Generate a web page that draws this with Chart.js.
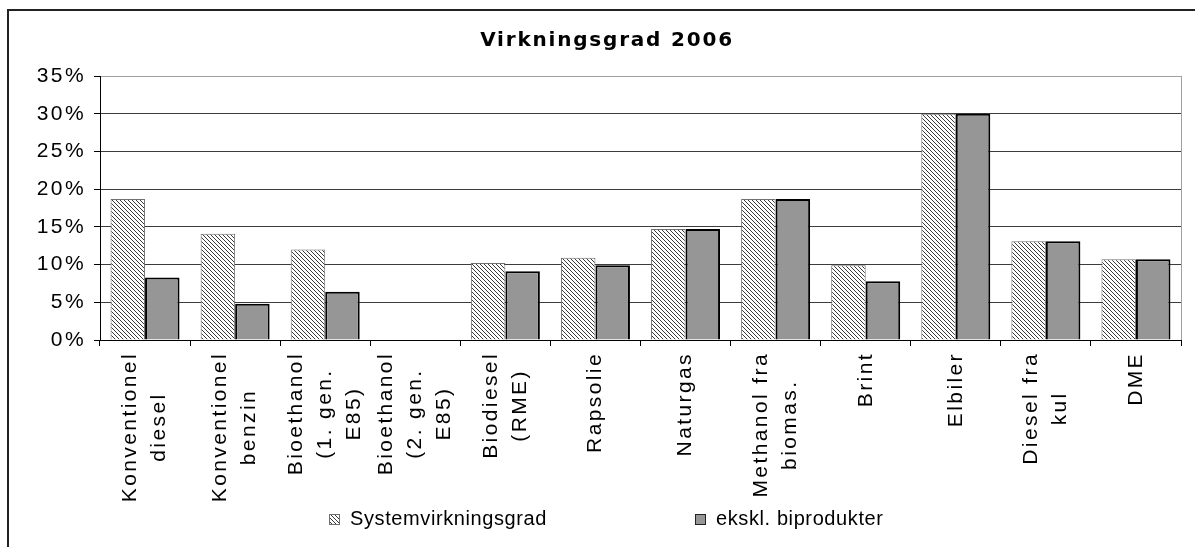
<!DOCTYPE html>
<html>
<head>
<meta charset="utf-8">
<script src="https://cdn.jsdelivr.net/npm/chart.js@4.4.1/dist/chart.umd.min.js"></script>
<style>
html,body{margin:0;padding:0;background:#fff;overflow:hidden}
canvas{display:block}
</style>
</head>
<body>
<canvas id="c" width="1195" height="547"></canvas>
<script>
// ---- data ----
const chartTitle = 'Virkningsgrad 2006';
const seriesNames = ['Systemvirkningsgrad', 'ekskl. biprodukter'];
const categories = [
  ['Konventionel', 'diesel'],
  ['Konventionel', 'benzin'],
  ['Bioethanol', '(1. gen.', 'E85)'],
  ['Bioethanol', '(2. gen.', 'E85)'],
  ['Biodiesel', '(RME)'],
  'Rapsolie',
  'Naturgas',
  ['Methanol fra', 'biomas.'],
  'Brint',
  'Elbiler',
  ['Diesel fra', 'kul'],
  'DME'
];
const systemValues = [18.7, 14.1, 12.0, 0, 10.2, 10.9, 14.7, 18.7, 9.9, 30.0, 13.1, 10.7];
const exclValues   = [8.3, 4.8, 6.4, 0, 9.1, 9.9, 14.7, 18.7, 7.8, 30.0, 13.1, 10.7];
const yTicks = [0, 5, 10, 15, 20, 25, 30, 35];

// ---- styles ----
const FONT = '"Liberation Sans", Arial, sans-serif';
const TICK_LS = '2.4px';

function makeHatch() {
  const p = document.createElement('canvas');
  p.width = 4; p.height = 4;
  const g = p.getContext('2d');
  g.fillStyle = '#ffffff';
  g.fillRect(0, 0, 4, 4);
  g.fillStyle = '#3a3a3a';
  for (let i = 0; i < 4; i++) g.fillRect(i, i, 1, 1);
  return g.createPattern(p, 'repeat');
}
const hatch = makeHatch();
const grayFill = '#969696';

const decor = {
  id: 'decor',
  beforeUpdate(chart) { chart.ctx.letterSpacing = TICK_LS; },
  beforeDraw(chart) {
    const ctx = chart.ctx;
    ctx.letterSpacing = TICK_LS;
    // outer frame (left + top visible)
    ctx.save();
    ctx.fillStyle = '#222';
    ctx.fillRect(7, 9, 2, 600);
    ctx.fillRect(7, 9, 1200, 2);
    ctx.restore();
    // center multi-line rotated labels like the original
    const xs = chart.scales.x;
    xs.getLabelItems().forEach(it => {
      if (it._adj) return;
      it._adj = true;
      const lines = [].concat(it.label);
      ctx.save();
      ctx.font = it.font.string;
      const w = Math.max(...lines.map(l => ctx.measureText(l).width));
      ctx.restore();
      it.options.textAlign = 'center';
      it.options.translation = [it.options.translation[0], it.options.translation[1] + w / 2];
      it.textOffset -= (lines.length - 1) * it.font.lineHeight / 2;
    });
  },
  afterDraw(chart) {
    const ctx = chart.ctx;
    ctx.save();
    // title
    ctx.letterSpacing = '1.8px';
    ctx.font = 'bold 20px "DejaVu Sans", Verdana, sans-serif';
    ctx.fillStyle = '#000';
    ctx.textAlign = 'center';
    ctx.textBaseline = 'alphabetic';
    ctx.fillText(chartTitle, 607, 45.5);
    // legend
    ctx.letterSpacing = '0.6px';
    ctx.font = '20px ' + FONT;
    ctx.textAlign = 'left';
    ctx.textBaseline = 'middle';
    const starts = [329, 695];
    chart.data.datasets.forEach((ds, i) => {
      const x = starts[i];
      ctx.fillStyle = ds.backgroundColor;
      ctx.fillRect(x, 514, 11, 11);
      ctx.strokeStyle = i === 0 ? '#707070' : '#222';
      ctx.lineWidth = 1;
      ctx.strokeRect(x + 0.5, 514.5, 10, 10);
      ctx.fillStyle = '#000';
      ctx.fillText(ds.label, x + 21, 519);
    });
    ctx.restore();
  }
};

Chart.defaults.font.family = FONT;
Chart.defaults.font.size = 21;
Chart.defaults.color = '#000';

new Chart(document.getElementById('c'), {
  type: 'bar',
  data: {
    labels: categories,
    datasets: [
      {
        label: seriesNames[0],
        data: systemValues,
        backgroundColor: hatch,
        borderColor: '#707070',
        borderWidth: 1,
        borderSkipped: 'bottom'
      },
      {
        label: seriesNames[1],
        data: exclValues,
        backgroundColor: grayFill,
        borderColor: '#000',
        borderWidth: 2,
        borderSkipped: 'bottom'
      }
    ]
  },
  options: {
    responsive: false,
    animation: false,
    devicePixelRatio: 1,
    events: [],
    layout: { padding: { left: 0, right: 14, top: 76, bottom: 32 } },
    datasets: { bar: { categoryPercentage: 0.766, barPercentage: 1.0 } },
    plugins: {
      legend: { display: false },
      title: { display: false },
      tooltip: { enabled: false }
    },
    scales: {
      x: {
        offset: true,
        grid: {
          offset: true,
          drawOnChartArea: true,
          color: c => c.type === 'scale' ? '#a0a0a0' : 'rgba(0,0,0,0)',
          tickColor: '#000',
          tickLength: 6,
          lineWidth: 1
        },
        border: { display: true, color: '#000', width: 1 },
        ticks: {
          autoSkip: false,
          maxRotation: 90,
          minRotation: 90,
          padding: 6,
          color: '#000',
          font: { size: 21, lineHeight: 1.38 }
        },
        afterFit(scale) { scale.height = 175; }
      },
      y: {
        min: yTicks[0],
        max: yTicks[yTicks.length - 1],
        afterBuildTicks(scale) { scale.ticks = yTicks.map(v => ({ value: v })); },
        grid: {
          color: c => c.tick && c.tick.value === 35 ? '#a0a0a0' : '#3c3c3c',
          tickColor: '#000',
          tickLength: 6,
          lineWidth: 1
        },
        border: { display: true, color: '#000', width: 1 },
        ticks: {
          padding: 8,
          color: '#000',
          font: { size: 21 },
          callback: v => v + '%'
        },
        afterFit(scale) { scale.width = 100; }
      }
    }
  },
  plugins: [decor]
});
</script>
</body>
</html>
